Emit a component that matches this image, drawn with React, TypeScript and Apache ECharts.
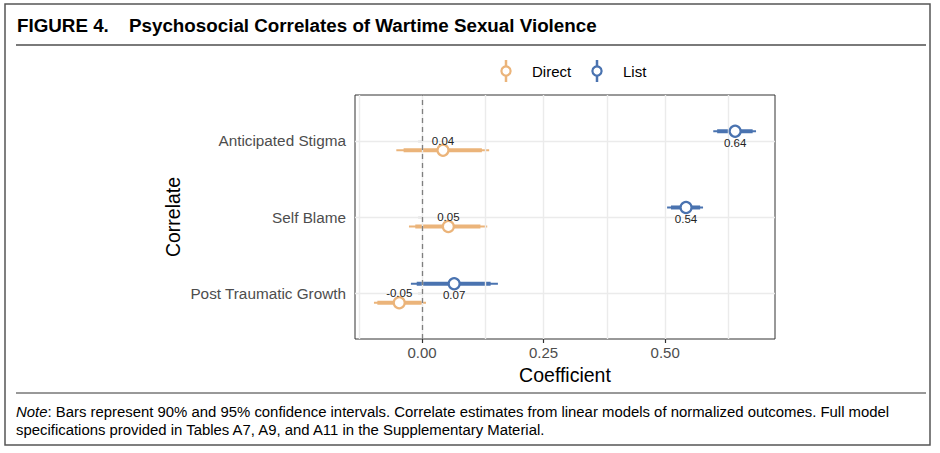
import React, { useEffect, useRef } from "react";
import * as echarts from "echarts";

// Categories, top to bottom
const categories = ["Anticipated Stigma", "Self Blame", "Post Traumatic Growth"];
const seriesNames = ["Direct", "List"];

// Direct estimates and intervals
const directEst = [0.043, 0.054, -0.047];
const directLo95 = [-0.053, -0.027, -0.099];
const directHi95 = [0.138, 0.134, 0.008];
const directLo90 = [-0.038, -0.014, -0.092];
const directHi90 = [0.123, 0.12, -0.001];

// List estimates and intervals
const listEst = [0.644, 0.543, 0.066];
const listLo95 = [0.599, 0.504, -0.023];
const listHi95 = [0.687, 0.578, 0.156];
const listLo90 = [0.607, 0.512, -0.011];
const listHi90 = [0.68, 0.572, 0.141];

// Axis ticks
const xTicks = [0, 0.25, 0.5];
const xGrid = [-0.125, 0, 0.125, 0.25, 0.375, 0.5, 0.625];

const DIRECT_COLOR = "#EBB47A";
const LIST_COLOR = "#4A73B0";
const FONT = "'Liberation Sans', Arial, Helvetica, sans-serif";
const DODGE = 0.125;

export default function App() {
  const ref = useRef<HTMLDivElement>(null);

  useEffect(() => {
    document.body.style.margin = "0";
    const chart = echarts.init(ref.current!, null, { renderer: "svg" });
    const n = categories.length;
    const yPos = (i: number) => n - i;

    const ciData = (lo95: number[], hi95: number[], lo90: number[], hi90: number[], off: number) =>
      categories.map((_, i) => [yPos(i) + off, lo95[i], hi95[i], lo90[i], hi90[i]]);

    const pointData = (est: number[], off: number) =>
      categories.map((_, i) => [est[i], yPos(i) + off]);

    const ciSeries = (name: string, data: number[][], color: string) => ({
      type: "custom",
      name,
      z: 3,
      silent: true,
      encode: { x: [1, 2, 3, 4], y: 0 },
      data,
      renderItem: (params: any, api: any) => {
        const y = api.value(0);
        const a = api.coord([api.value(1), y]);
        const b = api.coord([api.value(2), y]);
        const c = api.coord([api.value(3), y]);
        const d = api.coord([api.value(4), y]);
        return {
          type: "group",
          children: [
            {
              type: "line",
              shape: { x1: a[0], y1: a[1], x2: b[0], y2: b[1] },
              style: { stroke: color, lineWidth: 2 },
            },
            {
              type: "line",
              shape: { x1: c[0], y1: c[1], x2: d[0], y2: d[1] },
              style: { stroke: color, lineWidth: 4 },
            },
          ],
        };
      },
    });

    const pointSeries = (name: string, data: number[][], color: string, pos: string, dist: number) => ({
      type: "scatter",
      name,
      z: 5,
      symbol: "circle",
      symbolSize: 11,
      itemStyle: { color: "#ffffff", borderColor: color, borderWidth: 2.2, opacity: 1 },
      label: {
        show: true,
        position: pos,
        distance: dist,
        fontSize: 11.5,
        fontFamily: FONT,
        color: "#222222",
        formatter: (p: any) => p.value[0].toFixed(2),
      },
      data,
    });

    const legendItem = (x: number, color: string, text: string) => [
      {
        type: "line",
        shape: { x1: x, y1: 60, x2: x, y2: 82 },
        style: { stroke: color, lineWidth: 2.5 },
      },
      {
        type: "circle",
        shape: { cx: x, cy: 71, r: 4.6 },
        style: { fill: "#ffffff", stroke: color, lineWidth: 2.2 },
      },
      {
        type: "text",
        x: x + 26,
        y: 71,
        style: { text, fontSize: 15, fontFamily: FONT, fill: "#000000", verticalAlign: "middle" },
      },
    ];

    chart.setOption({
      animation: false,
      grid: {
        left: 355,
        top: 95,
        width: 420,
        height: 244,
        show: true,
        borderColor: "#333333",
        borderWidth: 1,
        backgroundColor: "transparent",
        outerBoundsMode: "none",
      },
      xAxis: {
        type: "value",
        min: -0.138,
        max: 0.726,
        name: "Coefficient",
        nameLocation: "middle",
        nameGap: 26,
        nameTextStyle: { fontSize: 19.5, fontFamily: FONT, color: "#000000" },
        axisLine: { show: false },
        axisTick: { show: true, customValues: xTicks, length: 4, lineStyle: { color: "#333333", width: 1.2 } },
        axisLabel: {
          customValues: xTicks,
          formatter: (v: number) => v.toFixed(2),
          fontSize: 15,
          fontFamily: FONT,
          color: "#4D4D4D",
          margin: 6,
        },
        splitLine: { show: false },
      },
      yAxis: {
        type: "value",
        min: 0.4,
        max: 3.6,
        name: "Correlate",
        nameLocation: "middle",
        nameGap: 172,
        nameRotate: 90,
        nameTextStyle: { fontSize: 19.5, fontFamily: FONT, color: "#000000" },
        axisLine: { show: false },
        axisTick: {
          show: true,
          customValues: categories.map((_, i) => yPos(i)),
          length: 4,
          lineStyle: { color: "#333333", width: 1.2 },
        },
        axisLabel: {
          customValues: categories.map((_, i) => yPos(i)),
          formatter: (v: number) => categories[n - Math.round(v)] ?? "",
          fontSize: 15.3,
          fontFamily: FONT,
          color: "#4D4D4D",
          margin: 9,
        },
        splitLine: { show: false },
      },
      series: [
        {
          type: "line",
          data: [],
          silent: true,
          z: 1,
          markLine: {
            silent: true,
            symbol: "none",
            label: { show: false },
            animation: false,
            lineStyle: { color: "#EBEBEB", type: "solid", width: 1.4 },
            data: [
              ...xGrid.map((v) => ({ xAxis: v })),
              ...categories.map((_, i) => ({ yAxis: yPos(i) })),
            ],
          },
        },
        {
          type: "line",
          data: [],
          silent: true,
          z: 2,
          markLine: {
            silent: true,
            symbol: "none",
            label: { show: false },
            animation: false,
            lineStyle: { color: "#7F7F7F", type: [5, 4], width: 1.3 },
            data: [{ xAxis: 0 }],
          },
        },
        ciSeries(seriesNames[0], ciData(directLo95, directHi95, directLo90, directHi90, -DODGE), DIRECT_COLOR),
        ciSeries(seriesNames[1], ciData(listLo95, listHi95, listLo90, listHi90, DODGE), LIST_COLOR),
        pointSeries(seriesNames[0], pointData(directEst, -DODGE), DIRECT_COLOR, "top", -3),
        pointSeries(seriesNames[1], pointData(listEst, DODGE), LIST_COLOR, "bottom", -1),
      ],
      graphic: [
        {
          type: "rect",
          shape: { x: 5, y: 4, width: 925, height: 441 },
          style: { fill: "none", stroke: "#555555", lineWidth: 1.5 },
          silent: true,
        },
        {
          type: "text",
          x: 17,
          y: 25,
          style: {
            text: "FIGURE 4.",
            fontSize: 18.8,
            fontWeight: "bold",
            fontFamily: FONT,
            fill: "#000000",
            verticalAlign: "middle",
          },
        },
        {
          type: "text",
          x: 129,
          y: 25,
          style: {
            text: "Psychosocial Correlates of Wartime Sexual Violence",
            fontSize: 18.8,
            fontWeight: "bold",
            fontFamily: FONT,
            fill: "#000000",
            verticalAlign: "middle",
          },
        },
        {
          type: "line",
          shape: { x1: 16, y1: 45, x2: 926, y2: 45 },
          style: { stroke: "#7A7A7A", lineWidth: 2 },
        },
        ...legendItem(506, DIRECT_COLOR, seriesNames[0]),
        ...legendItem(597, LIST_COLOR, seriesNames[1]),
        {
          type: "line",
          shape: { x1: 16, y1: 393, x2: 926, y2: 393 },
          style: { stroke: "#333333", lineWidth: 1 },
        },
        {
          type: "text",
          x: 16,
          y: 403,
          style: {
            text:
              "{i|Note}: Bars represent 90% and 95% confidence intervals. Correlate estimates from linear models of normalized outcomes. Full model\nspecifications provided in Tables A7, A9, and A11 in the Supplementary Material.",
            fontSize: 14.9,
            fontFamily: FONT,
            fill: "#000000",
            lineHeight: 18,
            rich: {
              i: { fontStyle: "italic", fontSize: 14.9, fontFamily: FONT, fill: "#000000", lineHeight: 18 },
            },
          },
        },
      ],
    });

    return () => chart.dispose();
  }, []);

  return <div ref={ref} style={{ width: 940, height: 453 }} />;
}
